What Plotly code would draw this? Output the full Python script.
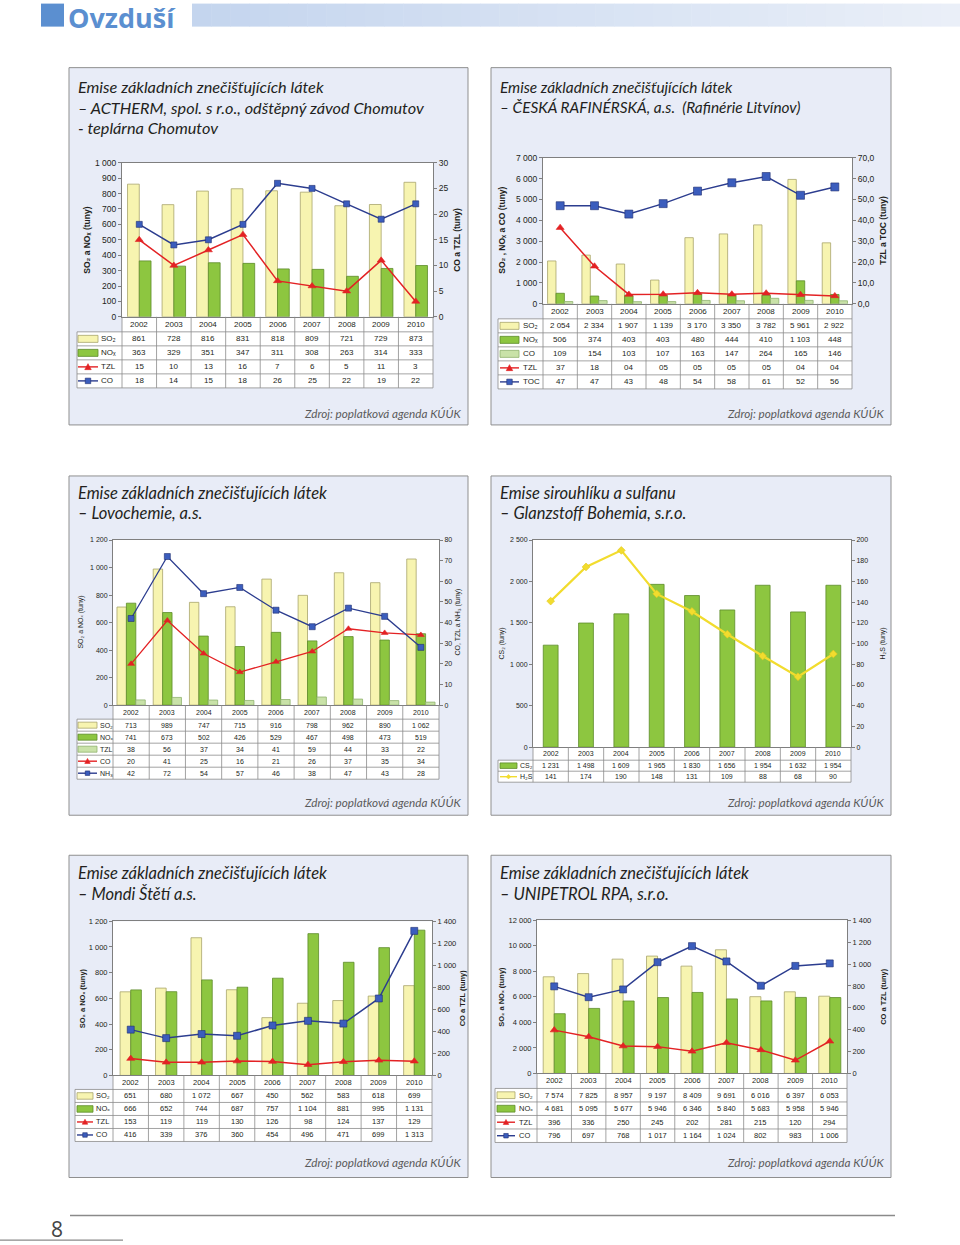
import plotly.graph_objects as go

W, H = 960, 1245
YEARS = ['2002', '2003', '2004', '2005', '2006', '2007', '2008', '2009', '2010']

# --- ACTHERM, Chomutov
actherm_so2 = [861, 728, 816, 831, 818, 809, 721, 729, 873]
actherm_nox = [363, 329, 351, 347, 311, 308, 263, 314, 333]
actherm_tzl = [15, 10, 13, 16, 7, 6, 5, 11, 3]
actherm_co = [18, 14, 15, 18, 26, 25, 22, 19, 22]

# --- ČESKÁ RAFINÉRSKÁ
crr_so2 = [2054, 2334, 1907, 1139, 3170, 3350, 3782, 5961, 2922]
crr_nox = [506, 374, 403, 403, 480, 444, 410, 1103, 448]
crr_co = [109, 154, 103, 107, 163, 147, 264, 165, 146]
crr_tzl = [36.5, 18.0, 4.5, 4.6, 5.3, 4.6, 5.1, 4.4, 3.8]
crr_tzl_labels = ['37', '18', '04', '05', '05', '05', '05', '04', '04']
crr_toc = [47, 47, 43, 48, 54, 58, 61, 52, 56]

# --- Lovochemie
lov_so2 = [713, 989, 747, 715, 916, 798, 962, 890, 1062]
lov_nox = [741, 673, 502, 426, 529, 467, 498, 473, 519]
lov_tzl = [38, 56, 37, 34, 41, 59, 44, 33, 22]
lov_co = [20, 41, 25, 16, 21, 26, 37, 35, 34]
lov_nh3 = [42, 72, 54, 57, 46, 38, 47, 43, 28]

# --- Glanzstoff Bohemia
glz_cs2 = [1231, 1498, 1609, 1965, 1830, 1656, 1954, 1632, 1954]
glz_h2s = [141, 174, 190, 148, 131, 109, 88, 68, 90]

# --- Mondi Štětí
mon_so2 = [651, 680, 1072, 667, 450, 562, 583, 618, 699]
mon_nox = [666, 652, 744, 687, 757, 1104, 881, 995, 1131]
mon_tzl = [153, 119, 119, 130, 126, 98, 124, 137, 129]
mon_co = [416, 339, 376, 360, 454, 496, 471, 699, 1313]

# --- UNIPETROL RPA
uni_so2 = [7574, 7825, 8957, 9197, 8409, 9691, 6016, 6397, 6053]
uni_nox = [4681, 5095, 5677, 5946, 6346, 5840, 5683, 5958, 5946]
uni_tzl = [396, 336, 250, 245, 202, 281, 215, 120, 294]
uni_co = [796, 697, 768, 1017, 1164, 1024, 802, 983, 1006]

# ---------------- styles
FONT = 'Liberation Sans, Arial, DejaVu Sans, sans-serif'
TFONT = 'Lato, Open Sans, sans-serif'
TXT = '#231f20'
AX = '#7f7f7f'
GRID = '#8c8c8c'
PANEL = '#e8ecf7'
YEL, YEL_L = '#f7f4b0', '#a8a56c'
GRN, GRN_L = '#8dc640', '#5d8b2a'
LGR, LGR_L = '#c9e2a8', '#8fb26e'
RED = '#e32224'
BLUE_L, BLUE_M = '#2c3d8f', '#3b5dbd'
YLINE = '#f2dc2e'

# vertical calibration of the photographed page
S_Y, C_Y = 0.9912, 5.4


def fmt(v):
    return f"{v:,}".replace(',', ' ')


def px(x):
    return x / W


def py(y):
    return 1 - ((y - C_Y) / S_Y) / H


shapes, annotations = [], []


def rect(x0, y0, x1, y1, fill=None, line=None, width=1.0, layer='below'):
    shapes.append(dict(type='rect', xref='paper', yref='paper',
                       x0=px(x0), x1=px(x1), y0=py(y1), y1=py(y0),
                       fillcolor=fill or 'rgba(0,0,0,0)',
                       line=dict(color=line or 'rgba(0,0,0,0)', width=width if line else 0),
                       layer=layer))


def seg(x0, y0, x1, y1, color=GRID, width=0.8, layer='above'):
    shapes.append(dict(type='line', xref='paper', yref='paper',
                       x0=px(x0), x1=px(x1), y0=py(y0), y1=py(y1),
                       line=dict(color=color, width=width), layer=layer))


def poly(pts, fill, line, width=0.6):
    d = 'M ' + ' L '.join(f'{px(x):.6f} {py(y):.6f}' for x, y in pts) + ' Z'
    shapes.append(dict(type='path', xref='paper', yref='paper', path=d,
                       fillcolor=fill, line=dict(color=line, width=width), layer='above'))


def text(x, y, s, size=8, color=TXT, xa='center', ya='middle', family=FONT, angle=0):
    annotations.append(dict(x=px(x), y=py(y), xref='paper', yref='paper', text=s,
                            showarrow=False, xanchor=xa, yanchor=ya, textangle=angle,
                            font=dict(size=size, color=color, family=family),
                            borderpad=0))


def marker_glyph(kind, x, y, s, fill, line):
    h = s / 2
    if kind == 'square':
        rect(x - h, y - h, x + h, y + h, fill=fill, line=line, width=0.6, layer='above')
    elif kind == 'triangle-up':
        poly([(x, y - h - 0.5), (x + h + 0.5, y + h), (x - h - 0.5, y + h)], fill, line)
    elif kind == 'diamond':
        poly([(x, y - h), (x + h, y), (x, y + h), (x - h, y)], fill, line)


fig = go.Figure()
layout = {}

# ---------------- header & footer
rect(41, 4, 64, 27, fill='#5b8fd0')
text(67, 18, '<b>Ovzduší</b>', size=27, color='#5b8fd0', xa='left', family='Open Sans, sans-serif')
c0, c1 = (196, 213, 238), (234, 239, 248)
n = 40
for i in range(n):
    f = i / (n - 1)
    col = tuple(int(round(c0[k] + (c1[k] - c0[k]) * f)) for k in range(3))
    x0 = 192 + (960 - 192) * i / n
    x1 = 192 + (960 - 192) * (i + 1) / n + 0.5
    rect(x0, 4, x1, 27, fill='rgb(%d,%d,%d)' % col)
seg(70, 1215, 895, 1215, color='#8a8a8a', width=1.5)
seg(0, 1239.5, 123, 1239.5, color='#8a8a8a', width=1.2)
text(57, 1228, '8', size=21, color='#444', family='Open Sans, sans-serif')

# ---------------- panels
panels = [
    dict(box=(69, 68, 468, 425), tsize=16.3, title=['Emise základních znečišťujících látek',
                                                    '– ACTHERM, spol. s r.o., odštěpný závod Chomutov',
                                                    '- teplárna Chomutov'], ty=87, src_y=413),
    dict(box=(491, 68, 891, 425), tsize=15.4, title=['Emise základních znečišťujících látek',
                                                     '– ČESKÁ RAFINÉRSKÁ, a.s.  (Rafinérie Litvínov)'],
         ty=87, src_y=413),
    dict(box=(69, 476, 468, 815), tsize=16.5, title=['Emise základních znečišťujících látek',
                                                     '– Lovochemie, a.s.'], ty=493, src_y=802),
    dict(box=(491, 476, 891, 815), tsize=16.5, title=['Emise sirouhlíku a sulfanu',
                                                      '– Glanzstoff Bohemia, s.r.o.'], ty=493, src_y=802),
    dict(box=(69, 855, 468, 1177), tsize=16.5, title=['Emise základních znečišťujících látek',
                                                      '– Mondi Štětí a.s.'], ty=873, src_y=1162),
    dict(box=(491, 855, 891, 1177), tsize=16.5, title=['Emise základních znečišťujících látek',
                                                       '– UNIPETROL RPA, s.r.o.'], ty=873, src_y=1162),
]
for p in panels:
    x0, y0, x1, y1 = p['box']
    rect(x0, y0, x1, y1, fill=PANEL, line='#8f8f8f', width=1)
    for k, line in enumerate(p['title']):
        text(x0 + 8, p['ty'] + 20.5 * k, '<i>' + line + '</i>', size=p['tsize'], color=TXT,
             xa='left', family=TFONT)
    text(x1 - 6, p['src_y'], '<i>Zdroj: poplatková agenda KÚÚK</i>', size=11.7, color='#5a5a5a',
         xa='right', family=TFONT)

SO2 = 'SO₂'
NOX = 'NOₓ'

charts = [
    dict(plot=(122, 433, 163, 317), tl=77, yh=15, rh=14, fs=8, tfs=8.5,
         left=dict(range=[0, 1000], dtick=100, fmt=',d'), right=dict(range=[0, 30], dtick=5, fmt=',d'),
         ltitle='<b>SO₂ a NOₓ (tuny)</b>', ltx=87,
         rtitle='<b>CO a TZL (tuny)</b>', rtx=457,
         bars=[(actherm_so2, YEL, YEL_L, -0.34, 0.34), (actherm_nox, GRN, GRN_L, 0.0, 0.34)],
         lines=[(actherm_tzl, RED, RED, RED, 'triangle-up', 7, 1.5),
                (actherm_co, BLUE_L, BLUE_M, '#1f2e70', 'square', 6, 1.5)],
         rows=[('bar', SO2, YEL, YEL_L, [fmt(v) for v in actherm_so2]),
               ('bar', NOX, GRN, GRN_L, [fmt(v) for v in actherm_nox]),
               ('line', 'TZL', RED, RED, [fmt(v) for v in actherm_tzl], 'triangle-up'),
               ('line', 'CO', BLUE_L, BLUE_M, [fmt(v) for v in actherm_co], 'square')],
         key=(1, 21, 23)),
    dict(plot=(543, 852, 158, 304), tl=498, yh=15, rh=14, fs=8, tfs=8.5,
         left=dict(range=[0, 7000], dtick=1000, fmt=',d'), right=dict(range=[0, 70], dtick=10, fmt='.1f'),
         ltitle='<b>SO₂ , NOₓ a CO (tuny)</b>', ltx=502,
         rtitle='<b>TZL a TOC (tuny)</b>', rtx=883,
         bars=[(crr_so2, YEL, YEL_L, -0.367, 0.245), (crr_nox, GRN, GRN_L, -0.122, 0.245),
               (crr_co, LGR, LGR_L, 0.123, 0.245)],
         lines=[(crr_tzl, RED, RED, RED, 'triangle-up', 7, 1.5),
                (crr_toc, BLUE_L, BLUE_M, '#1f2e70', 'square', 8, 1.5)],
         rows=[('bar', SO2, YEL, YEL_L, [fmt(v) for v in crr_so2]),
               ('bar', NOX, GRN, GRN_L, [fmt(v) for v in crr_nox]),
               ('bar', 'CO', LGR, LGR_L, [fmt(v) for v in crr_co]),
               ('line', 'TZL', RED, RED, crr_tzl_labels, 'triangle-up'),
               ('line', 'TOC', BLUE_L, BLUE_M, [fmt(v) for v in crr_toc], 'square')],
         key=(2, 21, 24)),
    dict(plot=(113, 439, 540, 705), tl=77, yh=14, rh=12, fs=7, tfs=7,
         left=dict(range=[0, 1200], dtick=200, fmt=',d'), right=dict(range=[0, 80], dtick=10, fmt=',d'),
         ltitle='SO₂ a NOₓ (tuny)', ltx=81,
         rtitle='CO, TZL a NH₃ (tuny)', rtx=458,
         bars=[(lov_so2, YEL, YEL_L, -0.39, 0.26), (lov_nox, GRN, GRN_L, -0.13, 0.26),
               (lov_tzl, LGR, LGR_L, 0.13, 0.26)],
         lines=[(lov_co, RED, RED, RED, 'triangle-up', 6, 1.3),
                (lov_nh3, BLUE_L, BLUE_M, '#1f2e70', 'square', 6, 1.3)],
         rows=[('bar', SO2, YEL, YEL_L, [fmt(v) for v in lov_so2]),
               ('bar', NOX, GRN, GRN_L, [fmt(v) for v in lov_nox]),
               ('bar', 'TZL', LGR, LGR_L, [fmt(v) for v in lov_tzl]),
               ('line', 'CO', RED, RED, [fmt(v) for v in lov_co], 'triangle-up'),
               ('line', 'NH₃', BLUE_L, BLUE_M, [fmt(v) for v in lov_nh3], 'square')],
         key=(1, 20, 22)),
    dict(plot=(533, 851, 540, 747), tl=498, yh=13, rh=11, fs=7, tfs=7,
         left=dict(range=[0, 2500], dtick=500, fmt=',d'), right=dict(range=[0, 200], dtick=20, fmt=',d'),
         ltitle='CS₂ (tuny)', ltx=502,
         rtitle='H₂S (tuny)', rtx=883,
         bars=[(glz_cs2, GRN, GRN_L, -0.21, 0.42)],
         lines=[(glz_h2s, YLINE, YLINE, '#e0c81c', 'diamond', 6, 2.2)],
         rows=[('bar', 'CS₂', GRN, GRN_L, [fmt(v) for v in glz_cs2]),
               ('line', 'H₂S', YLINE, YLINE, [fmt(v) for v in glz_h2s], 'diamond')],
         key=(2, 19, 21)),
    dict(plot=(113, 432, 921, 1075), tl=75, yh=14, rh=13, fs=7.5, tfs=7.5,
         left=dict(range=[0, 1200], dtick=200, fmt=',d'), right=dict(range=[0, 1400], dtick=200, fmt=',d'),
         ltitle='<b>SO₂ a NOₓ (tuny)</b>', ltx=82,
         rtitle='<b>CO a TZL (tuny)</b>', rtx=462,
         bars=[(mon_so2, YEL, YEL_L, -0.30, 0.30), (mon_nox, GRN, GRN_L, 0.0, 0.30)],
         lines=[(mon_tzl, RED, RED, RED, 'triangle-up', 7, 1.5),
                (mon_co, BLUE_L, BLUE_M, '#1f2e70', 'square', 7, 1.5)],
         rows=[('bar', SO2, YEL, YEL_L, [fmt(v) for v in mon_so2]),
               ('bar', NOX, GRN, GRN_L, [fmt(v) for v in mon_nox]),
               ('line', 'TZL', RED, RED, [fmt(v) for v in mon_tzl], 'triangle-up'),
               ('line', 'CO', BLUE_L, BLUE_M, [fmt(v) for v in mon_co], 'square')],
         key=(2, 18, 20)),
    dict(plot=(537, 847, 920, 1073), tl=495, yh=15, rh=13.5, fs=7.5, tfs=7.5,
         left=dict(range=[0, 12000], dtick=2000, fmt=',d'), right=dict(range=[0, 1400], dtick=200, fmt=',d'),
         ltitle='<b>SO₂ a NOₓ (tuny)</b>', ltx=502,
         rtitle='<b>CO a TZL (tuny)</b>', rtx=884,
         bars=[(uni_so2, YEL, YEL_L, -0.32, 0.32), (uni_nox, GRN, GRN_L, 0.0, 0.32)],
         lines=[(uni_tzl, RED, RED, RED, 'triangle-up', 7, 1.5),
                (uni_co, BLUE_L, BLUE_M, '#1f2e70', 'square', 7, 1.5)],
         rows=[('bar', SO2, YEL, YEL_L, [fmt(v) for v in uni_so2]),
               ('bar', NOX, GRN, GRN_L, [fmt(v) for v in uni_nox]),
               ('line', 'TZL', RED, RED, [fmt(v) for v in uni_tzl], 'triangle-up'),
               ('line', 'CO', BLUE_L, BLUE_M, [fmt(v) for v in uni_co], 'square')],
         key=(2, 20, 23)),
]

for ci, cfg in enumerate(charts, start=1):
    l, r, t, b = cfg['plot']
    fs = cfg['fs']
    xa = 'x' if ci == 1 else f'x{ci}'
    yl_n, yr_n = 2 * ci - 1, 2 * ci
    yl = 'y' if yl_n == 1 else f'y{yl_n}'
    yr = f'y{yr_n}'
    xkey = 'xaxis' if ci == 1 else f'xaxis{ci}'
    ylkey = 'yaxis' if yl_n == 1 else f'yaxis{yl_n}'
    yrkey = f'yaxis{yr_n}'

    rect(l, t, r, b, fill='white')

    layout[xkey] = dict(domain=[px(l), px(r)], anchor=yl, type='category',
                        categoryorder='array', categoryarray=YEARS, range=[-0.5, 8.5],
                        showticklabels=False, ticks='', showline=True, linecolor=AX,
                        linewidth=1, mirror=True, showgrid=False, zeroline=False, fixedrange=True)
    common = dict(tick0=0, ticks='outside', ticklen=3, tickcolor=AX, tickwidth=0.8,
                  showline=True, linecolor=AX, linewidth=1, showgrid=False, zeroline=False,
                  fixedrange=True, tickfont=dict(size=cfg['tfs'], family=FONT, color=TXT))
    layout[ylkey] = dict(domain=[py(b), py(t)], anchor=xa, range=cfg['left']['range'],
                         dtick=cfg['left']['dtick'], tickformat=cfg['left']['fmt'], **common)
    layout[yrkey] = dict(overlaying=yl, side='right', anchor=xa, range=cfg['right']['range'],
                         dtick=cfg['right']['dtick'], tickformat=cfg['right']['fmt'], **common)

    for vals, fill, border, off, wd in cfg['bars']:
        fig.add_trace(go.Bar(x=YEARS, y=vals, xaxis=xa, yaxis=yl, offset=off, width=wd,
                             marker=dict(color=fill, line=dict(color=border, width=0.8)),
                             showlegend=False, hoverinfo='skip'))
    for vals, lc, mc, mlc, sym, ms, lw in cfg['lines']:
        fig.add_trace(go.Scatter(x=YEARS, y=vals, xaxis=xa, yaxis=yr, mode='lines+markers',
                                 line=dict(color=lc, width=lw),
                                 marker=dict(symbol=sym, size=ms, color=mc,
                                             line=dict(color=mlc, width=0.6)),
                                 showlegend=False, hoverinfo='skip', cliponaxis=False))

    # axis titles
    text(cfg['ltx'], (t + b) / 2, cfg['ltitle'], size=cfg['tfs'], angle=-90)
    text(cfg['rtx'], (t + b) / 2, cfg['rtitle'], size=cfg['tfs'], angle=-90)

    # data table
    tl, yh, rh, rows = cfg['tl'], cfg['yh'], cfg['rh'], cfg['rows']
    cw = (r - l) / len(YEARS)
    y_row0 = b + yh
    y_bot = y_row0 + rh * len(rows)
    rect(l, b, r, y_row0, fill='white')
    rect(tl, y_row0, r, y_bot, fill='white')
    for k in range(len(rows) + 1):
        seg(tl, y_row0 + k * rh, r, y_row0 + k * rh)
    seg(tl, y_row0, tl, y_bot)
    for i in range(len(YEARS) + 1):
        seg(l + i * cw, b, l + i * cw, y_bot)
    for i, yr_lbl in enumerate(YEARS):
        text(l + (i + 0.5) * cw, (b + y_row0) / 2, yr_lbl, size=fs)
    kx0, kx1, lx = cfg['key']
    for k, row in enumerate(rows):
        yc = y_row0 + (k + 0.5) * rh
        kind, label, c_a, c_b, labels = row[:5]
        if kind == 'bar':
            kh = rh * 0.5
            rect(tl + kx0, yc - kh / 2, tl + kx1, yc + kh / 2, fill=c_a, line=c_b, width=0.8,
                 layer='above')
        else:
            seg(tl + kx0, yc, tl + kx1, yc, color=c_a, width=1.4)
            ms = 5.5 if fs >= 8 else 4.5
            mfill = BLUE_M if row[5] == 'square' else c_b
            marker_glyph(row[5], tl + (kx0 + kx1) / 2, yc, ms, mfill,
                         '#1f2e70' if row[5] == 'square' else c_b)
        text(tl + lx, yc, label, size=fs, xa='left')
        for i, s in enumerate(labels):
            text(l + (i + 0.5) * cw, yc, s, size=fs)

fig.update_layout(
    width=W, height=H, margin=dict(l=0, r=0, t=0, b=0, pad=0),
    paper_bgcolor='white', plot_bgcolor='rgba(0,0,0,0)',
    separators=', ', showlegend=False, barmode='overlay',
    shapes=shapes, annotations=annotations,
    font=dict(family=FONT, color=TXT),
    **layout,
)

fig.write_html(
    'out.html',
    config={'responsive': False, 'displayModeBar': False},
    post_script="document.body.style.margin='0px';document.body.style.padding='0px';"
                "document.body.style.overflow='hidden';",
)
